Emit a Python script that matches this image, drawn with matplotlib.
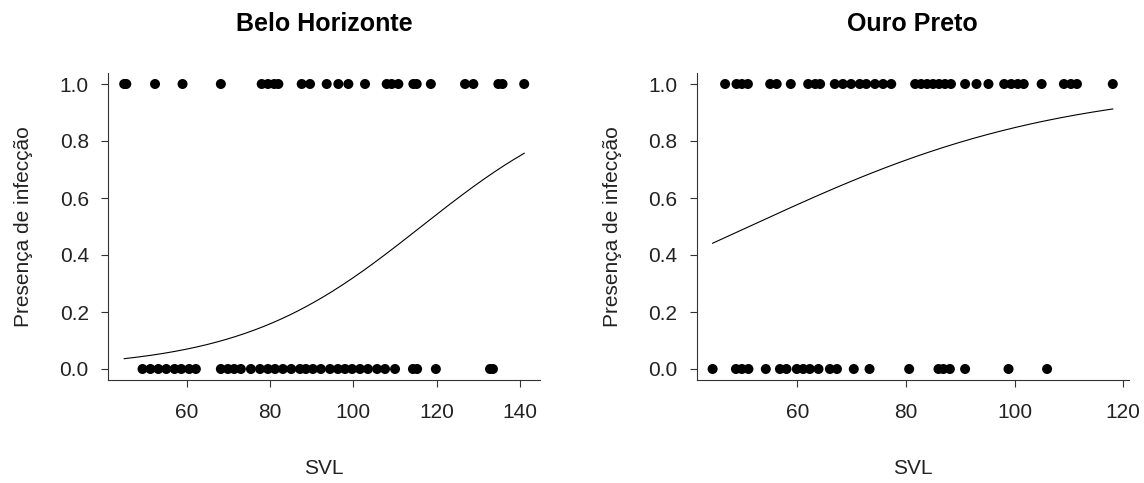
import numpy as np
import matplotlib
matplotlib.use("Agg")
import matplotlib.pyplot as plt

plt.rcParams['font.family'] = ['Liberation Sans', 'DejaVu Sans']

# ---------------- data ----------------
titles = ["Belo Horizonte", "Ouro Preto"]

bh_svl_infected = [45, 45.5, 52.4, 59.0, 68.2, 78, 79.5, 81, 82, 87.6, 89.6, 93.6,
                   96.4, 98.8, 102.8, 108.0, 109.2, 110.8, 114.4, 115.2, 118.6,
                   126.8, 128.8, 134.8, 135.8, 141.0]
bh_svl_uninfected = [49.4, 51.3, 53.2, 55.1, 57.1, 58.7, 60.6, 62.2,
                     68.2, 69.9, 71.4, 73.0, 75.4, 77.6, 79.5, 81.2, 83.1, 85.1,
                     87.2, 88.6, 90.3, 92.2, 94.4, 96.3, 98.0, 99.7, 101.6, 103.5,
                     105.7, 107.6, 110.0, 114.3, 115.3, 119.8, 132.8, 133.5]

op_svl_infected = [46.7, 48.8, 49.8, 50.9, 55.0, 56.2, 58.8, 62.0, 63.3, 64.2,
                   66.9, 68.4, 69.9, 71.5, 72.7, 74.3, 75.8, 77.3,
                   81.7, 82.8, 83.9, 85.0, 86.1, 87.2, 88.3, 90.9, 93.0, 95.2,
                   98.1, 99.4, 100.6, 101.7, 105.0, 109.1, 110.4, 111.5, 118.1]
op_svl_uninfected = [44.4, 48.7, 49.8, 51.0, 54.2, 56.8, 58.0, 59.9, 61.1, 62.3,
                     63.9, 66.0, 67.3, 70.4, 73.3, 80.6, 86.0, 86.9, 88.1, 90.9,
                     98.9, 106.0]

# fitted logistic model coefficients (intercept, slope)
bh_coef = (-5.35, 0.046)
op_coef = (-1.79, 0.035)

x_ticks = [[60, 80, 100, 120, 140], [60, 80, 100, 120]]
y_ticks = [0.0, 0.2, 0.4, 0.6, 0.8, 1.0]
y_ticklabels = ["0.0", "0.2", "0.4", "0.6", "0.8", "1.0"]
xlabel = "SVL"
ylabel = "Presença de infecção"

panels = [
    (bh_svl_infected, bh_svl_uninfected, bh_coef),
    (op_svl_infected, op_svl_uninfected, op_coef),
]

# ---------------- figure ----------------
W, H = 1144, 483
fig = plt.figure(figsize=(W / 100, H / 100), dpi=100)

axes_px = [(108.2, 72.6, 540.2, 380.4), (696.6, 72.6, 1128.8, 380.4)]

for i, (inf, uninf, coef) in enumerate(panels):
    x0, y0, x1, y1 = axes_px[i]
    ax = fig.add_axes([x0 / W, (H - y1) / H, (x1 - x0) / W, (y1 - y0) / H])
    allx = np.array(inf + uninf)
    xmin, xmax = allx.min(), allx.max()
    pad = 0.04 * (xmax - xmin)
    ax.set_xlim(xmin - pad, xmax + pad)
    ax.set_ylim(-0.04, 1.04)

    ax.scatter(inf, np.ones(len(inf)), s=52, color='black', edgecolors='none', zorder=3)
    ax.scatter(uninf, np.zeros(len(uninf)), s=52, color='black', edgecolors='none', zorder=3)

    xs = np.linspace(xmin, xmax, 300)
    ys = 1 / (1 + np.exp(-(coef[0] + coef[1] * xs)))
    ax.plot(xs, ys, color='black', lw=0.8)

    for s in ['top', 'right']:
        ax.spines[s].set_visible(False)
    for s in ['left', 'bottom']:
        ax.spines[s].set_linewidth(0.8)
        ax.spines[s].set_color('#333333')

    ax.set_xticks(x_ticks[i])
    ax.set_yticks(y_ticks)
    ax.set_yticklabels(y_ticklabels)
    ax.tick_params(axis='both', direction='out', length=5, width=0.8,
                   labelsize=15, colors='#333333', labelcolor='#222222')
    ax.tick_params(axis='y', pad=9)
    ax.tick_params(axis='x', pad=11)

    ax.set_xlabel(xlabel, fontsize=15, labelpad=27, color='#222222')
    ax.set_ylabel(ylabel, fontsize=15, labelpad=19, color='#222222')
    ax.set_title(titles[i], fontsize=18, fontweight='bold', pad=30)

fig.savefig("out.png", dpi=100)
